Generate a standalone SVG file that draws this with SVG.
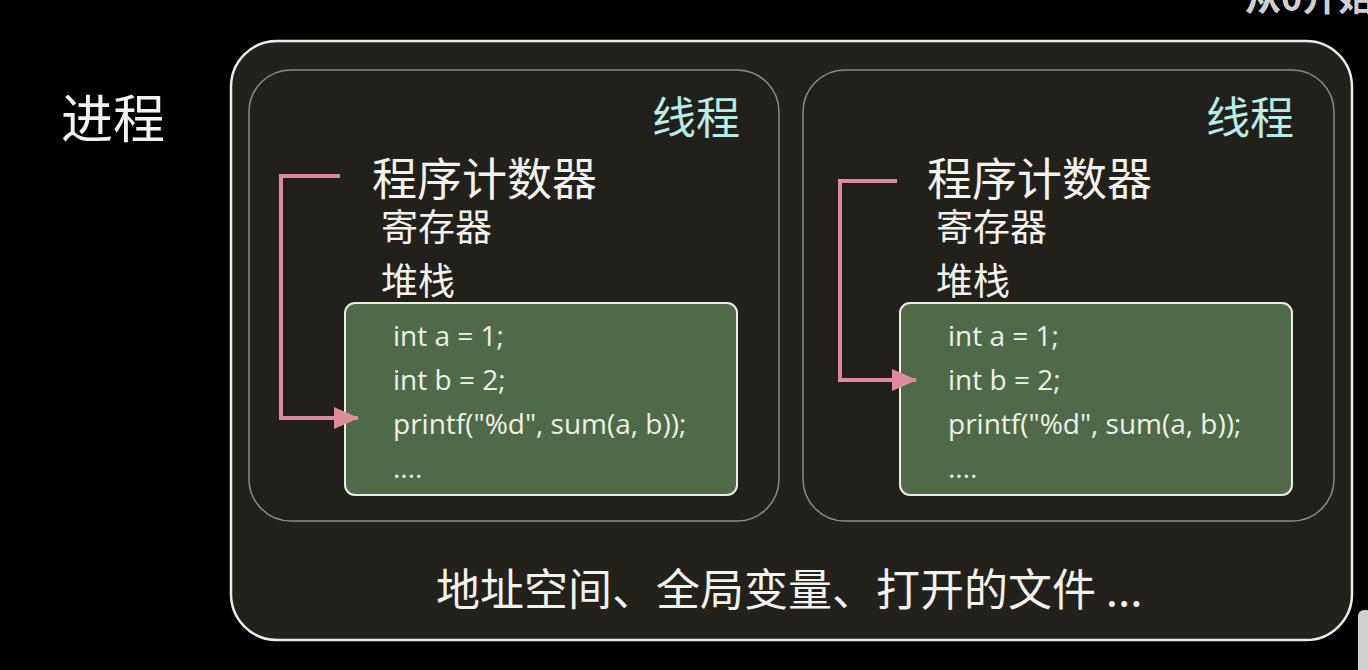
<svg xmlns="http://www.w3.org/2000/svg" width="1368" height="670" viewBox="0 0 1368 670">
<defs>
<style>
.cjk{font-family:"Noto Sans CJK SC","Noto Sans",sans-serif;fill:#f2f2ee}
.code{font-family:"Open Sans","Noto Sans",sans-serif;font-size:28px;fill:#f0f0ea}
.thread{fill:#22201b;stroke:#8c8a82;stroke-width:1.5}
.stack{fill:#4f6a47;stroke:#ecece4;stroke-width:2}
.conn{fill:none;stroke:#dc8c9c;stroke-width:4}
</style>
<marker id="ah" markerUnits="userSpaceOnUse" markerWidth="26" markerHeight="24" refX="24" refY="12" orient="auto">
<path d="M0,1 L25,12 L0,23 Z" fill="#dc8c9c"/>
</marker>
</defs>
<rect x="0" y="0" width="1368" height="670" fill="#000"/>
<text x="1245" y="11" class="cjk" font-size="36" font-weight="bold" style="fill:#cfcfcf">从0开始学</text>
<rect x="1358" y="610" width="14" height="70" rx="6" fill="#d0d0d0"/>
<text x="61" y="138" class="cjk" font-size="52">进程</text>
<g id="process">
<rect x="231" y="41" width="1121" height="599" rx="46" fill="#23211c" stroke="#ecece6" stroke-width="2.5"/>
<text x="436" y="606" class="cjk" font-size="44">地址空间、全局变量、打开的文件 ...</text>
</g>
<g id="thread1">
<rect class="thread" x="249" y="70" width="530" height="451" rx="42"/>
<text x="652" y="134" class="cjk" font-size="44" style="fill:#b8ece6">线程</text>
<text x="372" y="196" class="cjk" font-size="45">程序计数器</text>
<text x="381" y="241" class="cjk" font-size="37">寄存器</text>
<text x="381" y="295" class="cjk" font-size="37">堆栈</text>
<rect class="stack" x="345" y="303" width="392" height="192" rx="10"/>
<text class="code" x="393" y="346">int a = 1;</text>
<text class="code" x="393" y="390">int b = 2;</text>
<text class="code" x="393" y="434">printf("%d", sum(a, b));</text>
<text class="code" x="393" y="478">....</text>
</g>
<g id="thread2">
<rect class="thread" x="803" y="70" width="531" height="451" rx="42"/>
<text x="1206" y="134" class="cjk" font-size="44" style="fill:#b8ece6">线程</text>
<text x="927" y="196" class="cjk" font-size="45">程序计数器</text>
<text x="936" y="241" class="cjk" font-size="37">寄存器</text>
<text x="936" y="295" class="cjk" font-size="37">堆栈</text>
<rect class="stack" x="900" y="303" width="392" height="192" rx="10"/>
<text class="code" x="948" y="346">int a = 1;</text>
<text class="code" x="948" y="390">int b = 2;</text>
<text class="code" x="948" y="434">printf("%d", sum(a, b));</text>
<text class="code" x="948" y="478">....</text>
</g>
<g id="connectors">
<path class="conn" d="M340,176 H281 V418 H358" marker-end="url(#ah)"/>
<path class="conn" d="M897,181 H840 V380 H916" marker-end="url(#ah)"/>
</g>
</svg>
